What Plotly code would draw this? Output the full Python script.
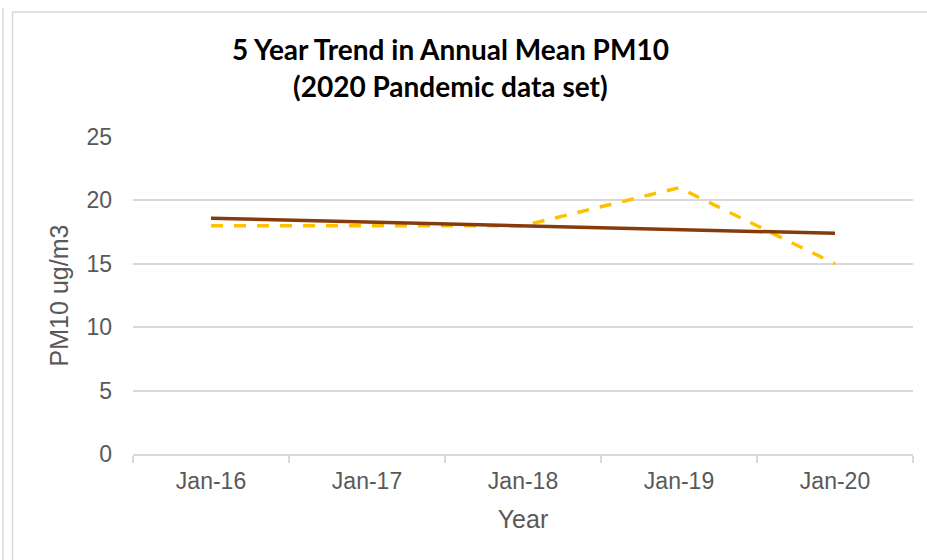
import plotly.graph_objects as go

categories = ["Jan-16", "Jan-17", "Jan-18", "Jan-19", "Jan-20"]
pm10_values = [18, 18, 18, 21, 15]
trend_values = [18.6, 18.3, 18.0, 17.7, 17.4]
y_ticks = [0, 5, 10, 15, 20, 25]

W, H = 927, 560
L, R, T, B = 133, 14, 137, 106
PW, PH = W - L - R, H - T - B

def px_x(x):
    return (x - L) / PW

def px_y(y):
    return (H - B - y) / PH

fig = go.Figure()
fig.add_trace(go.Scatter(
    x=categories, y=pm10_values, mode="lines",
    line=dict(color="#FFC000", width=3.5, dash="12px,11px"),
    showlegend=False, hoverinfo="skip"))
fig.add_trace(go.Scatter(
    x=categories, y=trend_values, mode="lines",
    line=dict(color="#843C0C", width=3.5),
    showlegend=False, hoverinfo="skip"))

tick_font = dict(family="Liberation Sans, Arial, sans-serif", size=23, color="#595959")
axis_title_font = dict(family="Liberation Sans, Arial, sans-serif", size=25, color="#595959")

fig.update_layout(
    width=W, height=H,
    margin=dict(l=L, r=R, t=T, b=B, autoexpand=False),
    paper_bgcolor="white", plot_bgcolor="white",
    xaxis=dict(
        type="category", tickson="boundaries", ticks="outside", ticklen=7,
        tickcolor="#d9d9d9", tickwidth=1.5,
        showline=True, linecolor="#d9d9d9", linewidth=1.5,
        showgrid=False, tickfont=tick_font, ticklabelstandoff=6,
        title=dict(text="Year", font=axis_title_font, standoff=17),
        automargin=False, range=[-0.5, 4.5],
    ),
    yaxis=dict(
        range=[0, 25], tickvals=y_ticks, showline=False,
        showgrid=True, gridcolor="#d9d9d9", gridwidth=1.5,
        zeroline=False, ticks="", tickfont=tick_font, ticklabelstandoff=20,
        title=dict(text="PM10 ug/m3", font=axis_title_font, standoff=10),
        automargin=False,
    ),
    annotations=[
        dict(text="<b>5 Year Trend in Annual Mean PM10</b>", xref="paper", yref="paper",
             x=px_x(450), y=px_y(49), xanchor="center", yanchor="middle", showarrow=False,
             font=dict(family="Lato, sans-serif", size=28, color="black")),
        dict(text="<b>(2020 Pandemic data set)</b>", xref="paper", yref="paper",
             x=px_x(450), y=px_y(86), xanchor="center", yanchor="middle", showarrow=False,
             font=dict(family="Lato, sans-serif", size=28, color="black")),
    ],
    shapes=[
        dict(type="line", xref="paper", yref="paper", x0=px_x(3), x1=px_x(3), y0=px_y(8), y1=px_y(H + 5),
             line=dict(color="#d9d9d9", width=1.5)),
        dict(type="line", xref="paper", yref="paper", x0=px_x(12.5), x1=px_x(12.5), y0=px_y(12), y1=px_y(H + 5),
             line=dict(color="#d9d9d9", width=1.5)),
        dict(type="line", xref="paper", yref="paper", x0=px_x(12.5), x1=px_x(W + 5), y0=px_y(12), y1=px_y(12),
             line=dict(color="#d9d9d9", width=1.5)),
    ],
)

fig.write_html("out.html")
